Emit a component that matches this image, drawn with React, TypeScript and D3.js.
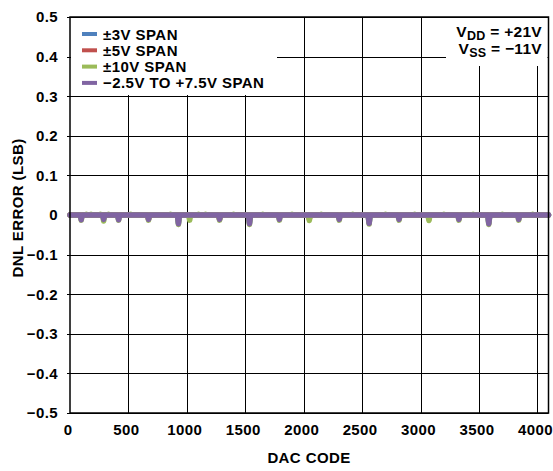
import * as d3 from 'd3'
import { useRef, useEffect } from 'react'

// DAC code axis and DNL (LSB) axis
const codeMax = 4095
const xTicks = [0, 500, 1000, 1500, 2000, 2500, 3000, 3500, 4000]
const yTicks = [0.5, 0.4, 0.3, 0.2, 0.1, 0, -0.1, -0.2, -0.3, -0.4, -0.5]

const seriesNames = ['±3V SPAN', '±5V SPAN', '±10V SPAN', '−2.5V TO +7.5V SPAN']
const seriesColors = ['#4f81bd', '#c0504d', '#9bbb59', '#8064a2']

// DNL glitches: [code, LSB]
const span3Spikes: [number, number][] = [
  [416, -0.01], [928, -0.02], [1536, -0.02], [2560, -0.02], [3584, -0.02],
]
const span5Spikes: [number, number][] = [
  [672, -0.01], [1280, -0.01], [2048, -0.01], [3072, -0.01],
]
const span10Spikes: [number, number][] = [
  [96, -0.013], [140, 0.002], [180, 0.002], [260, 0.002], [288, -0.015], [330, 0.002],
  [416, -0.013], [520, 0.002], [672, -0.013], [860, 0.002], [928, -0.024],
  [1024, -0.013], [1100, 0.002], [1160, 0.002], [1280, -0.013], [1400, 0.002],
  [1536, -0.024], [1650, 0.002], [1792, -0.013], [1900, 0.002], [2048, -0.014],
  [2150, 0.002], [2304, -0.013], [2420, 0.002], [2560, -0.023], [2700, 0.002],
  [2816, -0.013], [2950, 0.002], [3072, -0.014], [3200, 0.002], [3328, -0.013],
  [3450, 0.002], [3584, -0.024], [3700, 0.002], [3840, -0.013], [3960, 0.002],
]
const spanOffsetSpikes: [number, number][] = [
  [96, -0.012], [288, -0.011], [416, -0.012], [672, -0.011], [928, -0.022],
  [1280, -0.011], [1536, -0.022], [1792, -0.011], [2304, -0.011], [2560, -0.021],
  [2816, -0.011], [3328, -0.011], [3584, -0.022], [3840, -0.011],
]

const allSpikes = [span3Spikes, span5Spikes, span10Spikes, spanOffsetSpikes]

const toPoints = (spikes: [number, number][]): [number, number][] => {
  const pts: [number, number][] = [[0, 0]]
  spikes.forEach(([c, v]) => {
    pts.push([c - 9, 0], [c, v], [c + 9, 0])
  })
  pts.push([codeMax, 0])
  return pts
}

const W = 553
const H = 471
const margin = { left: 70, right: 4.5, top: 17, bottom: 58 }
const font = '"Liberation Sans", Arial, Helvetica, sans-serif'

export default function App() {
  const svgRef = useRef<SVGSVGElement>(null)

  useEffect((): void => {
    const svg = d3.select(svgRef.current)
    svg.selectAll('*').remove()

    const x = d3.scaleLinear().domain([0, codeMax]).range([margin.left, W - margin.right])
    const y = d3.scaleLinear().domain([-0.5, 0.5]).range([H - margin.bottom, margin.top])

    svg.append('rect').attr('width', W).attr('height', H).attr('fill', '#fff')

    // grid
    const grid = svg.append('g').attr('stroke', '#000').attr('stroke-width', 1)
    grid.selectAll('line.v')
      .data(xTicks.slice(1))
      .enter()
      .append('line')
      .attr('x1', d => Math.round(x(d)) + 0.5)
      .attr('x2', d => Math.round(x(d)) + 0.5)
      .attr('y1', y(0.5))
      .attr('y2', y(-0.5))
    grid.selectAll('line.h')
      .data(yTicks)
      .enter()
      .append('line')
      .attr('x1', x(0) - 3)
      .attr('x2', x(codeMax))
      .attr('y1', d => Math.round(y(d)) + 0.5)
      .attr('y2', d => Math.round(y(d)) + 0.5)

    // data
    const line = d3.line<[number, number]>()
      .x(d => x(d[0]))
      .y(d => y(d[1]))
    allSpikes.forEach((s, i) => {
      svg.append('path')
        .datum(toPoints(s))
        .attr('d', line)
        .attr('fill', 'none')
        .attr('stroke', seriesColors[i])
        .attr('stroke-width', 5.5)
        .attr('stroke-linejoin', 'round')
        .attr('stroke-linecap', 'round')
    })

    // legend box
    svg.append('rect')
      .attr('x', x(0) + 1).attr('y', y(0.5) + 1)
      .attr('width', 206).attr('height', 77)
      .attr('fill', '#fff')
    const leg = svg.append('g')
    seriesNames.forEach((name, i) => {
      const cy = 34 + i * 16.3
      leg.append('line')
        .attr('x1', 82).attr('x2', 97)
        .attr('y1', cy).attr('y2', cy)
        .attr('stroke', seriesColors[i])
        .attr('stroke-width', 4)
      leg.append('text')
        .attr('x', 103).attr('y', cy + 5.5)
        .attr('font-family', font).attr('font-weight', 'bold')
        .attr('font-size', 15).attr('letter-spacing', 0.45)
        .text(name)
    })

    // supply box
    svg.append('rect')
      .attr('x', 446).attr('y', y(0.5) + 1)
      .attr('width', x(codeMax) - 447).attr('height', 48)
      .attr('fill', '#fff')
    const supplies = [['V', 'DD', ' = +21V'], ['V', 'SS', ' = −11V']]
    supplies.forEach((s, i) => {
      const t = svg.append('text')
        .attr('x', 542).attr('y', 36.5 + i * 17.5)
        .attr('text-anchor', 'end')
        .attr('font-family', font).attr('font-weight', 'bold')
        .attr('font-size', 15.5).attr('letter-spacing', 0.3)
      t.append('tspan').text(s[0])
      t.append('tspan').attr('font-size', 12.5).attr('dy', 3).text(s[1])
      t.append('tspan').attr('dy', -3).text(s[2])
    })

    // frame
    svg.append('rect')
      .attr('x', x(0)).attr('y', y(0.5))
      .attr('width', x(codeMax) - x(0)).attr('height', y(-0.5) - y(0.5))
      .attr('fill', 'none').attr('stroke', '#000').attr('stroke-width', 1.5)

    // axis labels
    const fmtY = (d: number) => (d === 0 ? '0' : d3.format('.1f')(d).replace('-', '−'))
    svg.append('g')
      .selectAll('text')
      .data(yTicks)
      .enter()
      .append('text')
      .attr('x', 58)
      .attr('y', d => y(d))
      .attr('dy', '0.36em')
      .attr('text-anchor', 'end')
      .attr('font-family', font).attr('font-weight', 'bold').attr('font-size', 15)
      .attr('letter-spacing', 0.4)
      .text(fmtY)
    svg.append('g')
      .selectAll('text')
      .data(xTicks)
      .enter()
      .append('text')
      .attr('x', d => x(d) - 2)
      .attr('y', 435)
      .attr('text-anchor', 'middle')
      .attr('font-family', font).attr('font-weight', 'bold').attr('font-size', 15)
      .attr('letter-spacing', 0.4)
      .text(d => String(d))

    svg.append('text')
      .attr('x', 309).attr('y', 463)
      .attr('text-anchor', 'middle')
      .attr('font-family', font).attr('font-weight', 'bold').attr('font-size', 15)
      .attr('letter-spacing', 0.4)
      .text('DAC CODE')
    svg.append('text')
      .attr('transform', 'translate(23,208) rotate(-90)')
      .attr('text-anchor', 'middle')
      .attr('font-family', font).attr('font-weight', 'bold').attr('font-size', 15)
      .attr('letter-spacing', 0.4)
      .text('DNL ERROR (LSB)')
  }, [])

  return (
    <svg
      ref={svgRef}
      width={W}
      height={H}
      style={{ position: 'absolute', left: 0, top: 0 }}
    />
  )
}
